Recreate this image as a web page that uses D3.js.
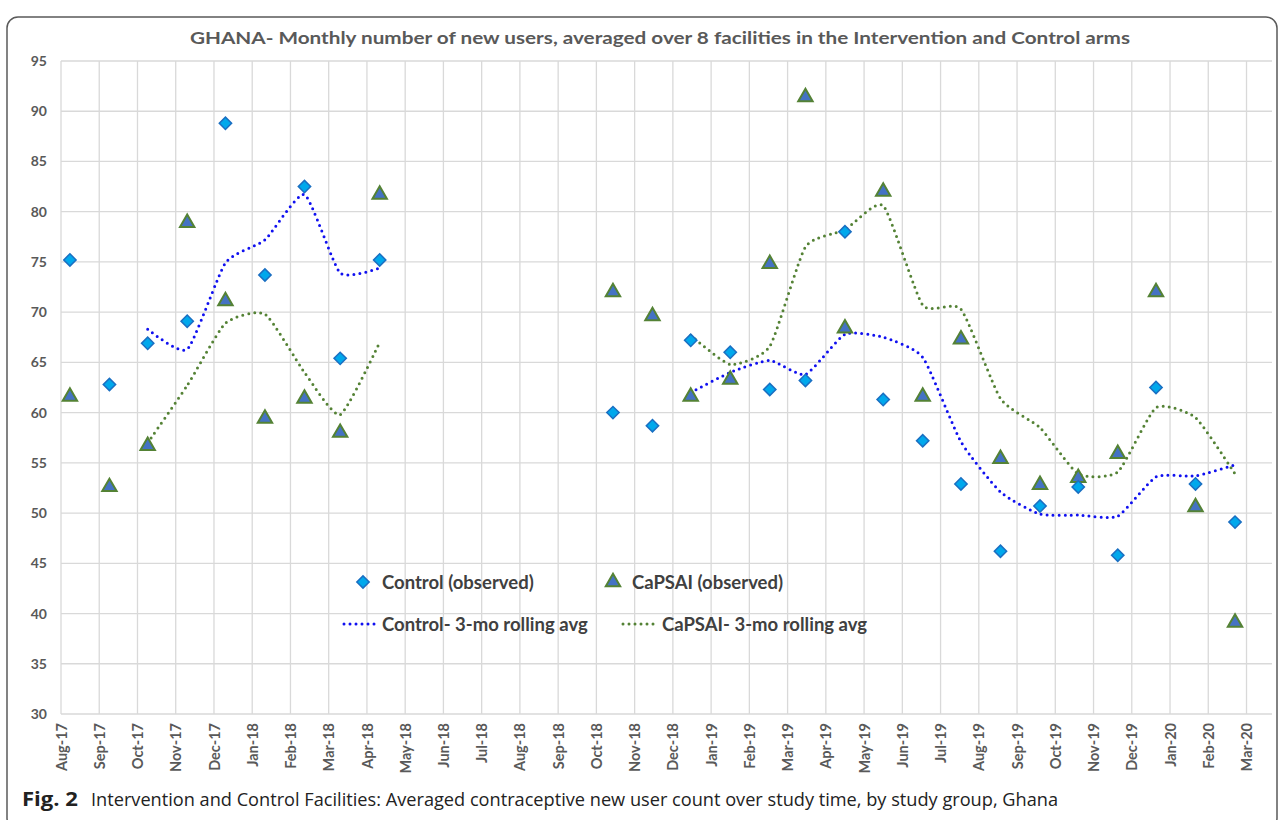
<!DOCTYPE html>
<html lang="en">
<head>
  <meta charset="utf-8">
  <title>GHANA - Monthly number of new users</title>
  <script src="https://d3js.org/d3.v7.min.js"></script>
  <style>
    body { margin: 0; background: #fff; }
    svg { display: block; }
    .grid line { stroke: #d9d9d9; stroke-width: 1.3px; }
    .axis text { font-family: Lato, "Open Sans", sans-serif; font-weight: bold; font-size: 14px; fill: #595959; }
    .axis.x text { font-size: 14.5px; }
    .legend text { font-family: Lato, "Open Sans", sans-serif; font-weight: bold; font-size: 18.5px; fill: #404040; }
  </style>
</head>
<body>
<svg width="1282" height="820"></svg>
<script>
// observation dates (one per month, Aug-17 .. Feb-20)
var pointDates = [
  "2017-08-22", "2017-09-22", "2017-10-22", "2017-11-22", "2017-12-22", "2018-01-22",
  "2018-02-22", "2018-03-22", "2018-04-22", "2018-05-22", "2018-06-22", "2018-07-22",
  "2018-08-22", "2018-09-22", "2018-10-22", "2018-11-22", "2018-12-22", "2019-01-22",
  "2019-02-22", "2019-03-22", "2019-04-22", "2019-05-22", "2019-06-22", "2019-07-22",
  "2019-08-22", "2019-09-22", "2019-10-22", "2019-11-22", "2019-12-22", "2020-01-22",
  "2020-02-22"
];

var control = [75.2, 62.8, 66.9, 69.1, 88.8, 73.7, 82.5, 65.4, 75.2,
  null, null, null, null, null,
  60.0, 58.7, 67.2, 66.0, 62.3, 63.2, 78.0, 61.3, 57.2, 52.9, 46.2, 50.7, 52.6, 45.8, 62.5, 52.9, 49.1];

var capsai = [61.6, 52.6, 56.7, 78.9, 71.1, 59.4, 61.4, 58.0, 81.7,
  null, null, null, null, null,
  72.0, 69.6, 61.6, 63.3, 74.8, 91.4, 68.4, 82.0, 61.6, 67.3, 55.4, 52.8, 53.5, 55.9, 72.0, 50.6, 39.1];

var controlAvg = [null, null, 68.3, 66.3, 74.9, 77.2, 81.7, 73.9, 74.4,
  null, null, null, null, null,
  null, null, 62.0, 64.0, 65.2, 63.8, 67.8, 67.5, 65.5, 57.1, 52.1, 49.9, 49.8, 49.7, 53.6, 53.7, 54.8];

var capsaiAvg = [null, null, 57.0, 62.7, 68.9, 69.8, 64.0, 59.8, 67.0,
  null, null, null, null, null,
  null, null, 67.7, 64.8, 66.6, 76.5, 78.2, 80.6, 70.7, 70.3, 61.4, 58.5, 53.9, 54.1, 60.5, 59.5, 53.9];

var tickLabels = ["Aug-17", "Sep-17", "Oct-17", "Nov-17", "Dec-17", "Jan-18", "Feb-18", "Mar-18",
  "Apr-18", "May-18", "Jun-18", "Jul-18", "Aug-18", "Sep-18", "Oct-18", "Nov-18", "Dec-18",
  "Jan-19", "Feb-19", "Mar-19", "Apr-19", "May-19", "Jun-19", "Jul-19", "Aug-19", "Sep-19",
  "Oct-19", "Nov-19", "Dec-19", "Jan-20", "Feb-20", "Mar-20"];

var yTicks = [30, 35, 40, 45, 50, 55, 60, 65, 70, 75, 80, 85, 90, 95];

var svg = d3.select("svg");
var parse = d3.utcParse("%Y-%m-%d");

// the axis steps 30 days per gridline, starting mid August
var axisStart = Date.UTC(2017, 7, 15);
var axisEnd = Date.UTC(2020, 2, 22);
var tickDates = tickLabels.map(function (d, i) { return d3.utcDay.offset(new Date(axisStart), 30 * i); });

var x = d3.scaleUtc().domain([axisStart, axisEnd]).range([61, 1272]);
var y = d3.scaleLinear().domain([30, 95]).range([714, 61]);

// panel frame
svg.append("rect")
  .attr("x", 7).attr("y", 17).attr("width", 1270).attr("height", 812)
  .attr("rx", 11)
  .attr("fill", "none").attr("stroke", "#5a5a5a").attr("stroke-width", 1.5);

// title
svg.append("text")
  .attr("x", 660).attr("y", 44)
  .attr("text-anchor", "middle")
  .attr("textLength", 940).attr("lengthAdjust", "spacingAndGlyphs")
  .style("font-family", "Lato, 'Open Sans', sans-serif")
  .style("font-weight", "bold").style("font-size", "17px").style("fill", "#595959")
  .text("GHANA- Monthly number of new users, averaged over 8 facilities in the Intervention and Control arms");

// gridlines
var grid = svg.append("g").attr("class", "grid");
grid.selectAll("line.h").data(yTicks).enter().append("line")
  .attr("class", "h")
  .attr("x1", x.range()[0]).attr("x2", x.range()[1])
  .attr("y1", function (d) { return y(d); }).attr("y2", function (d) { return y(d); });
grid.selectAll("line.v").data(tickDates).enter().append("line")
  .attr("class", "v")
  .attr("x1", function (d) { return x(d); }).attr("x2", function (d) { return x(d); })
  .attr("y1", y(95)).attr("y2", y(30));

// axes
var yAxis = svg.append("g").attr("class", "axis y")
  .attr("transform", "translate(" + (x.range()[0] - 14) + ",0)")
  .call(d3.axisLeft(y).tickValues(yTicks).tickSize(0).tickPadding(0));
yAxis.select(".domain").remove();

var xAxis = svg.append("g").attr("class", "axis x")
  .attr("transform", "translate(0," + (y(30) + 9) + ")")
  .call(d3.axisBottom(x).tickValues(tickDates).tickSize(0)
    .tickFormat(function (d, i) { return tickLabels[i]; }));
xAxis.select(".domain").remove();
xAxis.selectAll("text")
  .attr("transform", "rotate(-90)")
  .attr("text-anchor", "end")
  .attr("x", 0).attr("y", 0).attr("dy", "0.35em")
  .attr("dx", "0");

// series rows
var rows = pointDates.map(function (d, i) {
  return { date: parse(d), control: control[i], capsai: capsai[i],
    controlAvg: controlAvg[i], capsaiAvg: capsaiAvg[i] };
});

function rollingLine(key) {
  return d3.line()
    .defined(function (d) { return d[key] != null; })
    .x(function (d) { return x(d.date); })
    .y(function (d) { return y(d[key]); })
    .curve(d3.curveCardinal.tension(0.45));
}

var blue = "#1010f0", green = "#548235";

svg.append("path").datum(rows)
  .attr("d", rollingLine("capsaiAvg"))
  .attr("fill", "none").attr("stroke", green).attr("stroke-width", 3)
  .attr("stroke-linecap", "round").attr("stroke-dasharray", "0 6");

svg.append("path").datum(rows)
  .attr("d", rollingLine("controlAvg"))
  .attr("fill", "none").attr("stroke", blue).attr("stroke-width", 3)
  .attr("stroke-linecap", "round").attr("stroke-dasharray", "0 6");

var diamond = d3.symbol().type(d3.symbolSquare).size(76);
var triangle = d3.symbol().type(d3.symbolTriangle).size(90);

svg.append("g").selectAll("path")
  .data(rows.filter(function (d) { return d.capsai != null; }))
  .enter().append("path")
  .attr("d", triangle)
  .attr("transform", function (d) { return "translate(" + x(d.date) + "," + y(d.capsai) + ")"; })
  .attr("fill", "#4472c4").attr("stroke", green).attr("stroke-width", 2);

svg.append("g").selectAll("path")
  .data(rows.filter(function (d) { return d.control != null; }))
  .enter().append("path")
  .attr("d", diamond)
  .attr("transform", function (d) { return "translate(" + x(d.date) + "," + y(d.control) + ") rotate(45)"; })
  .attr("fill", "#00a8ec").attr("stroke", "#1a6fc2").attr("stroke-width", 1.5);

// legend
var legend = svg.append("g").attr("class", "legend");
legend.append("path").attr("d", diamond)
  .attr("transform", "translate(363,582) rotate(45)")
  .attr("fill", "#00a8ec").attr("stroke", "#1a6fc2").attr("stroke-width", 1.5);
legend.append("text").attr("x", 382).attr("y", 589).text("Control (observed)");
legend.append("path").attr("d", triangle)
  .attr("transform", "translate(613,582)")
  .attr("fill", "#4472c4").attr("stroke", green).attr("stroke-width", 2);
legend.append("text").attr("x", 632).attr("y", 589).text("CaPSAI (observed)");
legend.append("line").attr("x1", 344).attr("x2", 380).attr("y1", 624).attr("y2", 624)
  .attr("stroke", blue).attr("stroke-width", 3).attr("stroke-linecap", "round").attr("stroke-dasharray", "0 6");
legend.append("text").attr("x", 382).attr("y", 631).text("Control- 3-mo rolling avg");
legend.append("line").attr("x1", 623).attr("x2", 659).attr("y1", 624).attr("y2", 624)
  .attr("stroke", green).attr("stroke-width", 3).attr("stroke-linecap", "round").attr("stroke-dasharray", "0 6");
legend.append("text").attr("x", 662).attr("y", 631).text("CaPSAI- 3-mo rolling avg");

// caption
svg.append("text")
  .attr("x", 22).attr("y", 806)
  .attr("textLength", 56).attr("lengthAdjust", "spacingAndGlyphs")
  .style("font-family", "'Open Sans', sans-serif").style("font-weight", "bold")
  .style("font-size", "19px").style("fill", "#222")
  .text("Fig. 2");
svg.append("text")
  .attr("x", 91).attr("y", 806)
  .attr("textLength", 967).attr("lengthAdjust", "spacingAndGlyphs")
  .style("font-family", "'Open Sans', sans-serif")
  .style("font-size", "18px").style("fill", "#222")
  .text("Intervention and Control Facilities: Averaged contraceptive new user count over study time, by study group, Ghana");
</script>
</body>
</html>
